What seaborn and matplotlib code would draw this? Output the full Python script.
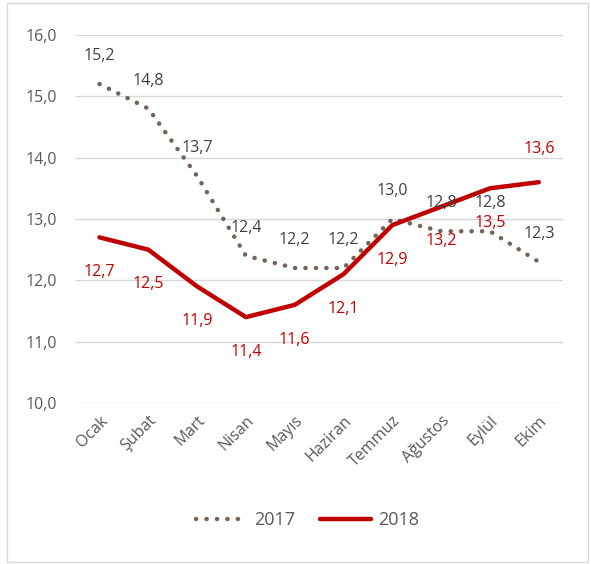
import seaborn as sns
import matplotlib.pyplot as plt
import pandas as pd
from matplotlib.ticker import FuncFormatter
from matplotlib.lines import Line2D
from matplotlib.patches import Rectangle

months = ['Ocak', 'Şubat', 'Mart', 'Nisan', 'Mayıs', 'Haziran',
          'Temmuz', 'Ağustos', 'Eylül', 'Ekim']
vals_2017 = [15.2, 14.8, 13.7, 12.4, 12.2, 12.2, 13.0, 12.8, 12.8, 12.3]
vals_2018 = [12.7, 12.5, 11.9, 11.4, 11.6, 12.1, 12.9, 13.2, 13.5, 13.6]

c2017 = '#766458'
c2018 = '#C00000'
gray = '#595959'

sns.set_theme(style='white')
plt.rcParams['font.family'] = ['Open Sans', 'DejaVu Sans']

df = pd.DataFrame({'ay': months, '2017': vals_2017, '2018': vals_2018})

fig = plt.figure(figsize=(5.91, 5.64), dpi=100)
ax = fig.add_axes([0.127, 0.2855, 0.826, 0.6525])

# 2017 dotted, 2018 solid
sns.lineplot(data=df, x='ay', y='2017', ax=ax, sort=False, color=c2017,
             linewidth=3.2, linestyle=(0, (0.05, 2.3)), dash_capstyle='round')
sns.lineplot(data=df, x='ay', y='2018', ax=ax, sort=False, color=c2018,
             linewidth=3.2, solid_capstyle='round')

ax.set_xlim(-0.5, len(months) - 0.5)
ax.set_ylim(10, 16)
ax.set_yticks([10, 11, 12, 13, 14, 15, 16])
ax.yaxis.set_major_formatter(FuncFormatter(lambda v, p: f'{v:.1f}'.replace('.', ',')))
ax.grid(axis='y', color='#D9D9D9', linewidth=1)
ax.set_axisbelow(True)
for s in ax.spines.values():
    s.set_visible(False)
ax.set_xlabel('')
ax.set_ylabel('')
ax.tick_params(axis='both', length=0, labelsize=11.5, colors=gray)
ax.tick_params(axis='y', pad=13)
ax.tick_params(axis='x', pad=7)
for lbl in ax.get_xticklabels():
    lbl.set_rotation(45)
    lbl.set_ha('right')
    lbl.set_rotation_mode('anchor')

# data labels
for i, v in enumerate(vals_2017):
    ax.annotate(f'{v:.1f}'.replace('.', ','), (i, v), xytext=(0, 20),
                textcoords='offset points', ha='center', va='center',
                fontsize=11.5, color='#404040')
for i, v in enumerate(vals_2018):
    off = 24 if i == len(vals_2018) - 1 else -25
    ax.annotate(f'{v:.1f}'.replace('.', ','), (i, v), xytext=(0, off),
                textcoords='offset points', ha='center', va='center',
                fontsize=11.5, color=c2018)

handles = [Line2D([], [], color=c2017, linewidth=3.2, linestyle=(0, (0.05, 2.3)),
                  dash_capstyle='round'),
           Line2D([], [], color=c2018, linewidth=3.2, solid_capstyle='round')]
fig.legend(handles, ['2017', '2018'], loc='center', bbox_to_anchor=(0.52, 0.078),
           ncol=2, frameon=False, fontsize=13, labelcolor=gray,
           handlelength=2.8, columnspacing=1.4, handletextpad=0.4)

fig.patches.append(Rectangle((0.012, 0.004), 0.983, 0.99, transform=fig.transFigure,
                             fill=False, edgecolor='#D9D9D9', linewidth=1))

fig.savefig('out.png', dpi=100)
